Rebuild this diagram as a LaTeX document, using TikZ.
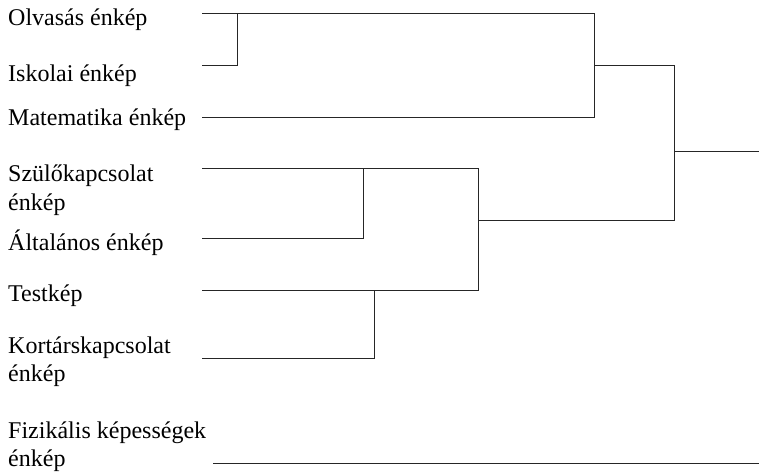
\documentclass[tikz,border=0pt]{standalone}
\usepackage{fontspec}
\setmainfont{Liberation Serif}
\begin{document}
\begin{tikzpicture}[x=1pt,y=-1pt,
  lbl/.style={anchor=base west,inner sep=0pt,align=left,font=\fontsize{24}{28.5}\selectfont},
  dl/.style={line width=1pt,draw=black!85,line join=miter}]
\useasboundingbox (0,0) rectangle (759,472);
% labels (base = baseline of last line)
\node[lbl] (olv) at (8,25) {Olvasás énkép};
\node[lbl] (isk) at (8,81) {Iskolai énkép};
\node[lbl] (mat) at (8,125) {Matematika énkép};
\node[lbl] (szu) at (8,210) {Szülőkapcsolat\\énkép};
\node[lbl] (alt) at (8,250) {Általános énkép};
\node[lbl] (tes) at (8,301.7) {Testkép};
\node[lbl] (kor) at (8,381.7) {Kortárskapcsolat\\énkép};
\node[lbl] (fiz) at (8,466.7) {Fizikális képességek\\énkép};
% leaf ends
\coordinate (l1) at (202,13);
\coordinate (l2) at (202,65);
\coordinate (l3) at (202,117);
\coordinate (l4) at (202,168);
\coordinate (l5) at (202,238);
\coordinate (l6) at (202,290);
\coordinate (l7) at (202,358);
\coordinate (l8) at (213,463);
% merge points
\coordinate (m12) at (237,13);
\coordinate (m123) at (594,13);
\coordinate (m45) at (363,168);
\coordinate (m67) at (374,290);
\coordinate (m4567) at (478,168);
\coordinate (mall) at (674,65);
\coordinate (root) at (759,151);
\coordinate (fizend) at (759,463);
% dendrogram
\draw[dl] (l1) -- (m123) |- (l3);
\draw[dl] (m12) |- (l2);
\draw[dl] (m123 |- l2) -- (mall) -- (mall |- 0,220) -- (m4567 |- 0,220);
\draw[dl] (mall |- root) -- (root);
\draw[dl] (l4) -- (m4567) |- (l6);
\draw[dl] (m45) |- (l5);
\draw[dl] (m67) |- (l7);
\draw[dl] (l8) -- (fizend);
\end{tikzpicture}
\end{document}
